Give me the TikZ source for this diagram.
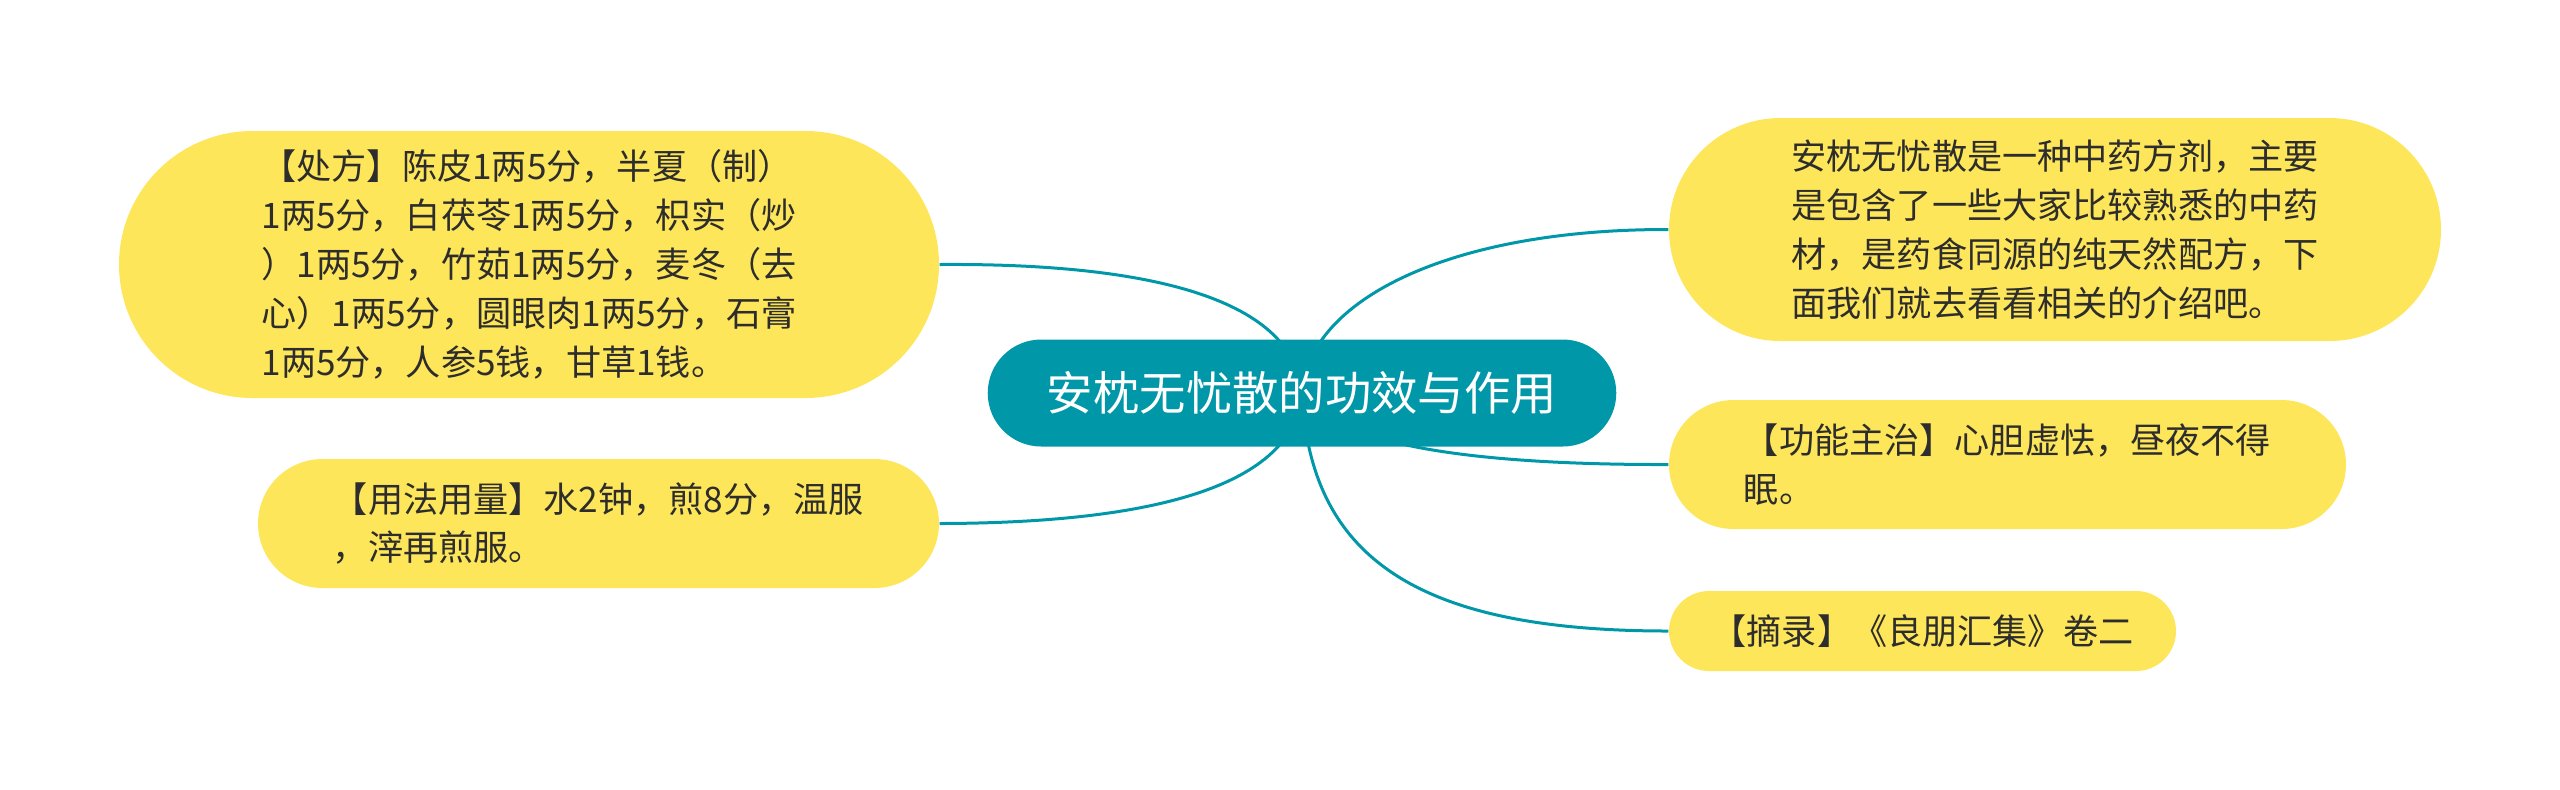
\documentclass[tikz,border=0pt]{standalone}
\usepackage{fontspec}
\setmainfont{Noto Sans CJK SC}
\usetikzlibrary{shapes.misc, backgrounds}
\definecolor{mmteal}{RGB}{0, 151, 168}
\definecolor{mmyellow}{RGB}{254, 230, 90}
\definecolor{mmtext}{RGB}{45, 45, 45}
\tikzset{
    rootnode/.style={rounded rectangle, fill=mmteal, text=white, minimum width=65.2mm, minimum height=10.7mm, font=\fontsize{13.2pt}{16pt}\selectfont},
    leafnode/.style={rounded rectangle, fill=mmyellow, text=mmtext, align=left, inner sep=0pt, font=\fontsize{10pt}{13.9pt}\selectfont},
    link/.style={draw=mmteal, line width=0.3mm}
}

\begin{document}
\begin{tikzpicture}[x=0.1mm, y=-0.1mm]
            \useasboundingbox (0,0) rectangle (2560,789);
            \node[rootnode] (root) at (1302,393) {安枕无忧散的功效与作用};
            \node[leafnode, minimum width=82mm, minimum height=26.7mm] (recipe) at (529,264.5)
                {【处方】陈皮1两5分，半夏（制）\\1两5分，白茯苓1两5分，枳实（炒\\）1两5分，竹茹1两5分，麦冬（去\\心）1两5分，圆眼肉1两5分，石膏\\1两5分，人参5钱，甘草1钱。};
            \node[leafnode, minimum width=68.1mm, minimum height=12.9mm] (usage) at (598.5,523.5)
                {【用法用量】水2钟，煎8分，温服\\，滓再煎服。};
            \node[leafnode, minimum width=77.2mm, minimum height=22.3mm] (intro) at (2055,229.5)
                {安枕无忧散是一种中药方剂，主要\\是包含了一些大家比较熟悉的中药\\材，是药食同源的纯天然配方，下\\面我们就去看看相关的介绍吧。};
            \node[leafnode, minimum width=67.7mm, minimum height=12.9mm] (effect) at (2007.5,464.5)
                {【功能主治】心胆虚怯，昼夜不得\\眠。};
            \node[leafnode, minimum width=50.7mm, minimum height=8mm] (source) at (1922.5,631)
                {【摘录】《良朋汇集》卷二};
            \begin{pgfonlayer}{background}
                \draw[link] (root.center) .. controls (1294,300) and (1154,263) .. (recipe.east);
                \draw[link] (root.center) .. controls (1294,486) and (1154,523) .. (usage.east);
                \draw[link] (root.center) .. controls (1308,300) and (1450,229) .. (intro.west);
                \draw[link] (root.center) .. controls (1330,440) and (1450,465) .. (effect.west);
                \draw[link] (root.center) .. controls (1310,560) and (1420,631) .. (source.west);
            \end{pgfonlayer}
        \end{tikzpicture}
\end{document}
